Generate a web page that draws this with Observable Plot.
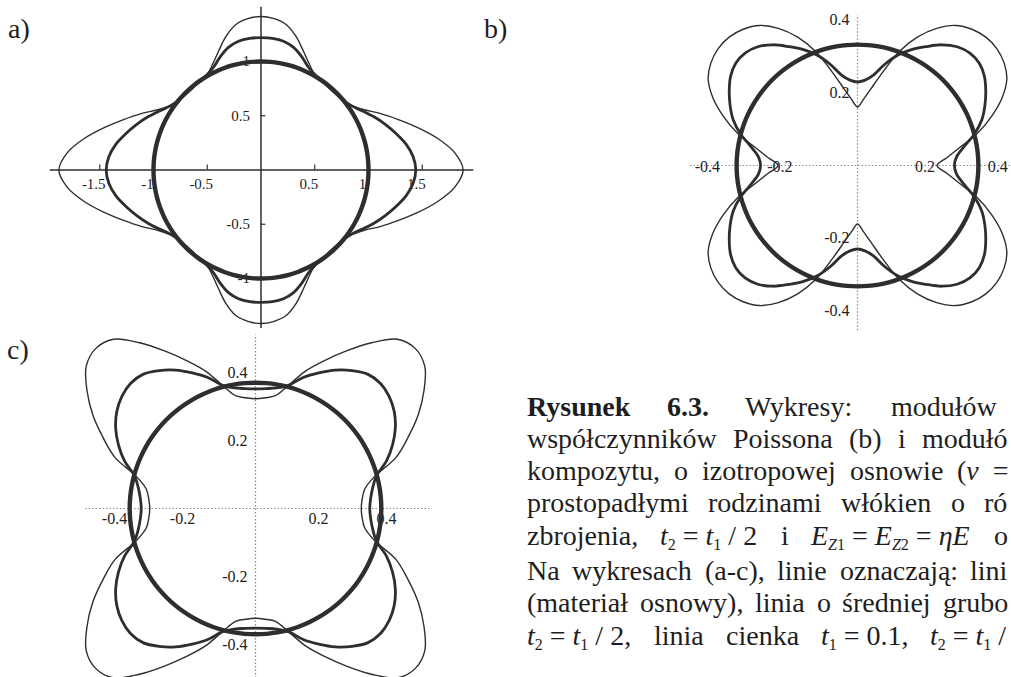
<!DOCTYPE html>
<html><head><meta charset="utf-8">
<script src="https://cdn.jsdelivr.net/npm/d3@7"></script>
<script src="https://cdn.jsdelivr.net/npm/@observablehq/plot@0.6"></script>
<style>
html,body{margin:0;padding:0;background:#fff;}
#page{position:relative;width:1011px;height:677px;overflow:hidden;background:#fff;}
#page svg{position:absolute;}
</style></head><body><div id="page"></div>
<script>
// angles (degrees) of the first quadrant at which radii were read; other quadrants are mirror images
const angles = [0,5,10,15,20,25,30,35,40,45,50,55,60,65,70,75,80,85,90];

// a) Young's modulus
const aCircle = 1.0;
const aMedium = [1.44,1.42,1.37,1.30,1.23,1.16,1.09,1.03,1.00,0.99,0.99,1.00,1.01,1.045,1.11,1.17,1.205,1.218,1.22];
const aThin   = [1.88,1.81,1.67,1.51,1.36,1.23,1.11,1.035,1.00,0.99,0.99,1.00,1.01,1.07,1.16,1.27,1.36,1.40,1.415];
const aTicksX = [-1.5,-1,-0.5,0.5,1,1.5];
const aTicksY = [-1,-0.5,0.5,1];
const aAxisX = [-1.96,1.98];
const aAxisY = [-1.46,1.50];

// b) Poisson's ratio
const bCircle = 0.333;
const bMedium = [0.267,0.274,0.298,0.333,0.364,0.387,0.408,0.427,0.438,0.438,0.427,0.406,0.378,0.352,0.323,0.288,0.253,0.236,0.230];
const bThin   = [0.219,0.247,0.286,0.342,0.392,0.439,0.475,0.493,0.501,0.500,0.490,0.471,0.436,0.390,0.333,0.265,0.215,0.182,0.161];
const bTicks = [-0.4,-0.2,0.2,0.4];
const bAxisX = [-0.46,0.43];
const bAxisY = [-0.455,0.413];

// c) shear modulus
const cCircle = 0.37;
const cMedium = [0.336,0.340,0.350,0.368,0.410,0.445,0.475,0.498,0.513,0.520,0.515,0.495,0.470,0.440,0.410,0.375,0.360,0.354,0.352];
const cThin   = [0.311,0.315,0.326,0.362,0.440,0.495,0.553,0.605,0.650,0.665,0.650,0.595,0.535,0.480,0.430,0.375,0.337,0.327,0.323];
const cTicks = [-0.4,-0.2,0.2,0.4];
const cAxisX = [-0.50,0.52];
const cAxisY = [-0.50,0.51];

const INK = "#2e2e2e";
const SERIF = "'Liberation Serif', 'Times New Roman', serif";
const page = document.getElementById("page");

function closedCurve(q) {
  const pts = [];
  for (let deg = 0; deg < 360; deg += 5) {
    let m;
    if (deg <= 90) m = deg; else if (deg <= 180) m = 180 - deg; else if (deg <= 270) m = deg - 180; else m = 360 - deg;
    const r = Array.isArray(q) ? q[angles.indexOf(m)] : q;
    const t = deg * Math.PI / 180;
    pts.push({x: r * Math.cos(t), y: r * Math.sin(t)});
  }
  return pts;
}

function curves(thin, medium, circle) {
  return [
    Plot.line(closedCurve(thin), {x: "x", y: "y", curve: "catmull-rom-closed", stroke: INK, strokeWidth: 1.4}),
    Plot.line(closedCurve(medium), {x: "x", y: "y", curve: "catmull-rom-closed", stroke: INK, strokeWidth: 2.8}),
    Plot.line(closedCurve(circle), {x: "x", y: "y", curve: "catmull-rom-closed", stroke: INK, strokeWidth: 4.4})
  ];
}

function panel(left, top, width, height, cx, cy, sx, sy, marks) {
  const chart = Plot.plot({
    width, height, marginTop: 0, marginRight: 0, marginBottom: 0, marginLeft: 0,
    x: {domain: [-cx / sx, (width - cx) / sx], range: [0, width], axis: null},
    y: {domain: [-(height - cy) / sy, cy / sy], range: [height, 0], axis: null},
    style: {background: "transparent", fontFamily: SERIF, overflow: "visible"},
    marks
  });
  chart.style.left = left + "px";
  chart.style.top = top + "px";
  page.append(chart);
}

const lbl = {fontSize: 15, fill: "#222", fontFamily: SERIF};

// a)
panel(0, 0, 520, 335, 260.5, 169.5, 107.5, 108.5, [
  Plot.ruleY([0], {x1: aAxisX[0], x2: aAxisX[1], stroke: INK, strokeWidth: 1.5}),
  Plot.ruleX([0], {y1: aAxisY[0], y2: aAxisY[1], stroke: INK, strokeWidth: 1.5}),
  Plot.ruleX(aTicksX, {x: d => d, y1: 0, y2: 0.045, stroke: INK, strokeWidth: 1.2}),
  Plot.ruleY(aTicksY, {y: d => d, x1: 0, x2: 0.045, stroke: INK, strokeWidth: 1.2}),
  Plot.text(aTicksX, {x: d => d, y: 0, text: d => String(d), dy: 14, dx: -6, ...lbl}),
  Plot.text(aTicksY, {x: 0, y: d => d, text: d => String(d), textAnchor: "end", dx: -11, ...lbl}),
  ...curves(aThin, aMedium, aCircle)
]);

// b)
const dotted = {stroke: "#8a8a8a", strokeWidth: 1.2, strokeDasharray: "1.5,2"};
panel(520, 0, 491, 345, 337, 165, 363, 363, [
  Plot.ruleY([0], {x1: bAxisX[0], x2: bAxisX[1], ...dotted}),
  Plot.ruleX([0], {y1: bAxisY[0], y2: bAxisY[1], ...dotted}),
  Plot.text(bTicks, {x: d => d, y: 0, text: d => String(d), dx: -5, dy: 1, ...lbl, fontSize: 16}),
  Plot.text(bTicks, {x: 0, y: d => d, text: d => String(d), textAnchor: "end", dx: -8, ...lbl, fontSize: 16}),
  ...curves(bThin, bMedium, bCircle)
]);

// c)
panel(0, 330, 520, 347, 255, 178, 340, 340, [
  Plot.ruleY([0], {x1: cAxisX[0], x2: cAxisX[1], ...dotted}),
  Plot.ruleX([0], {y1: cAxisY[0], y2: cAxisY[1], ...dotted}),
  Plot.text(cTicks, {x: d => d, y: 0, text: d => String(d), dx: -5, dy: 10, ...lbl, fontSize: 16}),
  Plot.text(cTicks, {x: 0, y: d => d, text: d => String(d), textAnchor: "end", dx: -8, ...lbl, fontSize: 16}),
  ...curves(cThin, cMedium, cCircle)
]);

// panel letters and caption (overlay text, cut where the reference page ends)
const it = s => `<tspan font-style="italic">${s}</tspan>`;
const sub = s => `<tspan dy="5" font-size="16">${s}</tspan>`;
const up = s => `<tspan dy="-5">${s}</tspan>`;
const EQ = " = ";
const tEq = (a, b) => `${it("t")}${sub(a)}${up(EQ)}${it("t")}${sub(b)}`;

const panelLetters = [[8, 38, "a)"], [484, 38, "b)"], [7, 359, "c)"]];
const captionLines = [
  [[527, `<tspan font-weight="bold">Rysunek</tspan>`], [667, `<tspan font-weight="bold">6.3.</tspan>`], [745, "Wykresy:"], [891, "modułów"]],
  [[527, "współczynników"], [733, "Poissona"], [849, "(b)"], [898, "i"], [922, "modułó"]],
  [[527, "kompozytu,"], [674, "o"], [702, "izotropowej"], [850, "osnowie"], [957, `(${it("ν")}\u2002=`]],
  [[527, "prostopadłymi"], [708, "rodzinami"], [841, "włókien"], [951, "o"], [984, "ró"]],
  [[527, "zbrojenia,"], [660, `${tEq("2", "1")}${up(" / 2")}`], [781, "i"],
   [811, `${it("E")}${sub(it("Z") + "1")}${up(EQ)}${it("E")}${sub(it("Z") + "2")}${up(EQ + it("η") + it("E"))}`], [994, "o"]],
  [[527, "Na"], [572, "wykresach"], [705, "(a-c),"], [777, "linie"], [840, "oznaczają:"], [970, "lini"]],
  [[527, "(materiał"], [640, "osnowy),"], [755, "linia"], [817, "o"], [842, "średniej"], [943, "grubo"]],
  [[527, `${tEq("2", "1")}${up(" / 2,")}`], [654, "linia"], [726, "cienka"], [821, `${it("t")}${sub("1")}${up(EQ + "0.1,")}`], [930, `${tEq("2", "1")}${up(" /")}`]]
];
const baselines = [416, 448, 480, 512, 545, 580, 612, 645];

let svg = `<svg xmlns="http://www.w3.org/2000/svg" width="1011" height="677" style="left:0;top:0;pointer-events:none;fill:#1e1e1e">`;
for (const [x, y, s] of panelLetters) svg += `<text x="${x}" y="${y}" font-size="28" font-family="${SERIF}">${s}</text>`;
captionLines.forEach((line, i) => {
  for (const [x, s] of line) svg += `<text x="${x}" y="${baselines[i]}" font-size="28" font-family="${SERIF}" style="white-space:pre">${s}</text>`;
});
svg += `</svg>`;
page.insertAdjacentHTML("beforeend", svg);
</script></body></html>
